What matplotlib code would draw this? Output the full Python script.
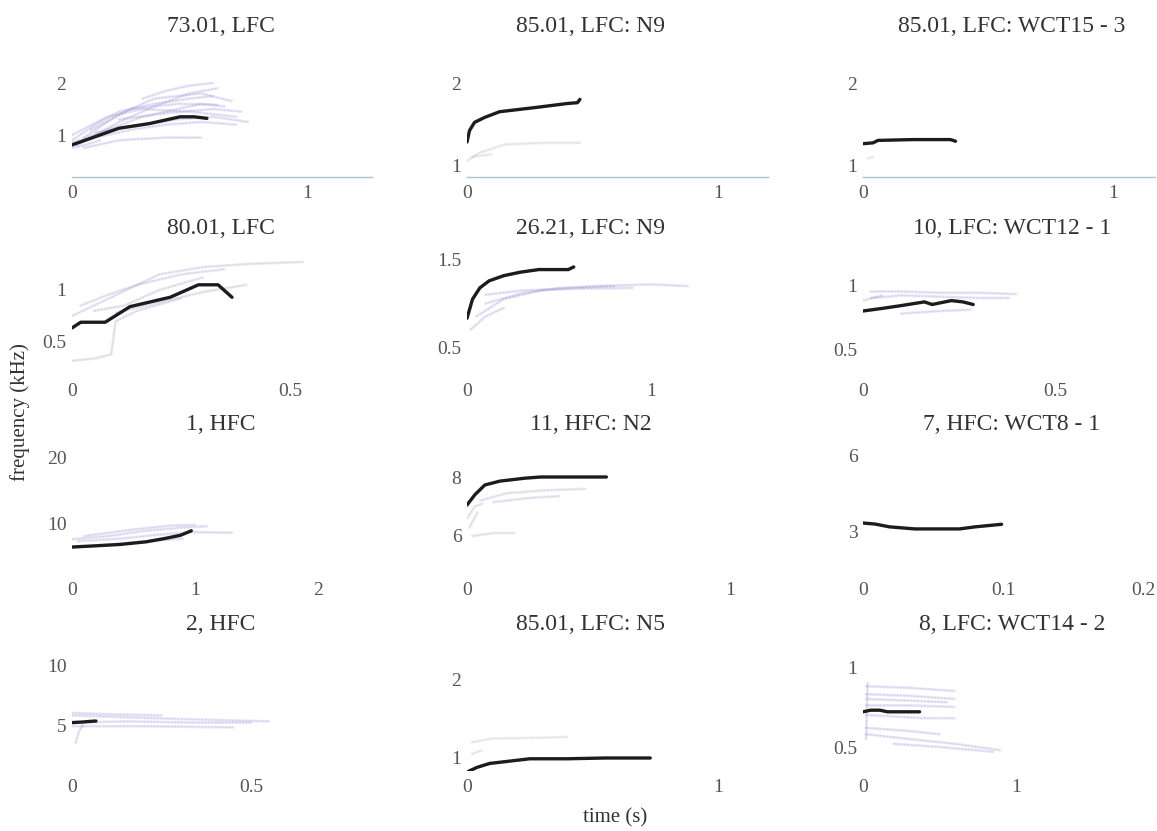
import matplotlib
matplotlib.use("Agg")
import matplotlib.pyplot as plt

W, H = 1157, 831
plt.rcParams['font.family'] = ['Liberation Serif', 'DejaVu Serif']

# ---------------- data ----------------
titles = [
    ["73.01, LFC", "85.01, LFC: N9", "85.01, LFC: WCT15 - 3"],
    ["80.01, LFC", "26.21, LFC: N9", "10, LFC: WCT12 - 1"],
    ["1, HFC", "11, HFC: N2", "7, HFC: WCT8 - 1"],
    ["2, HFC", "85.01, LFC: N5", "8, LFC: WCT14 - 2"],
]

xticks = [
    [[0, 1], [0, 1], [0, 1]],
    [[0, 0.5], [0, 1], [0, 0.5]],
    [[0, 1, 2], [0, 1], [0, 0.1, 0.2]],
    [[0, 0.5], [0, 1], [0, 1]],
]
xticklabels = [
    [["0", "1"], ["0", "1"], ["0", "1"]],
    [["0", "0.5"], ["0", "1"], ["0", "0.5"]],
    [["0", "1", "2"], ["0", "1"], ["0", "0.1", "0.2"]],
    [["0", "0.5"], ["0", "1"], ["0", "1"]],
]
yticks = [
    [[1, 2], [1, 2], [1, 2]],
    [[0.5, 1], [0.5, 1.5], [0.5, 1]],
    [[10, 20], [6, 8], [3, 6]],
    [[5, 10], [1, 2], [0.5, 1]],
]
yticklabels = [
    [["1", "2"], ["1", "2"], ["1", "2"]],
    [["0.5", "1"], ["0.5", "1.5"], ["0.5", "1"]],
    [["10", "20"], ["6", "8"], ["3", "6"]],
    [["5", "10"], ["1", "2"], ["0.5", "1"]],
]

# mean (black) contours: time (s), frequency (kHz)
mean_t = [
    [[0, 0.1, 0.2, 0.33, 0.46, 0.52, 0.574],
     [0, 0.01, 0.03, 0.07, 0.13, 0.27, 0.40, 0.44, 0.45],
     [0, 0.04, 0.06, 0.2, 0.35, 0.37]],
    [[0, 0.02, 0.076, 0.133, 0.225, 0.29, 0.335, 0.367],
     [0, 0.03, 0.07, 0.12, 0.2, 0.29, 0.39, 0.55, 0.58],
     [0, 0.05, 0.096, 0.16, 0.18, 0.23, 0.26, 0.287]],
    [[0, 0.2, 0.39, 0.6, 0.75, 0.88, 0.97],
     [0, 0.03, 0.068, 0.125, 0.22, 0.28, 0.4, 0.53],
     [0, 0.0086, 0.019, 0.037, 0.069, 0.08, 0.099]],
    [[0, 0.03, 0.05, 0.067],
     [0, 0.04, 0.09, 0.17, 0.25, 0.4, 0.55, 0.73],
     [0, 0.05, 0.11, 0.16, 0.24, 0.37]],
]
mean_f = [
    [[0.81, 0.97, 1.13, 1.22, 1.35, 1.35, 1.32],
     [1.28, 1.42, 1.52, 1.58, 1.65, 1.70, 1.75, 1.76, 1.80],
     [1.26, 1.27, 1.30, 1.31, 1.31, 1.29]],
    [[0.635, 0.69, 0.69, 0.84, 0.93, 1.05, 1.05, 0.93],
     [0.83, 1.05, 1.18, 1.26, 1.32, 1.36, 1.39, 1.39, 1.42],
     [0.80, 0.82, 0.84, 0.87, 0.85, 0.88, 0.87, 0.85]],
    [[6.3, 6.5, 6.7, 7.1, 7.6, 8.1, 8.8],
     [7.05, 7.4, 7.73, 7.86, 7.96, 8.0, 8.0, 8.0],
     [3.35, 3.31, 3.2, 3.12, 3.12, 3.2, 3.3]],
    [[5.2, 5.25, 5.3, 5.33],
     [0.82, 0.88, 0.93, 0.96, 0.99, 0.99, 1.0, 1.0],
     [0.72, 0.73, 0.73, 0.72, 0.72, 0.72]],
]

# individual (faint) contours per panel: list of (time, freq) pairs
faint = [
    [
        [([0, 0.1, 0.2, 0.35, 0.5, 0.6], [0.9, 1.2, 1.45, 1.6, 1.7, 1.75]),
         ([0, 0.15, 0.3, 0.45, 0.55, 0.65], [0.85, 1.1, 1.35, 1.5, 1.6, 1.55]),
         ([0.02, 0.2, 0.35, 0.5, 0.62], [0.8, 1.25, 1.55, 1.8, 1.9]),
         ([0, 0.1, 0.25, 0.4, 0.55, 0.7], [0.8, 0.95, 1.1, 1.2, 1.25, 1.2]),
         ([0.05, 0.2, 0.4, 0.55], [0.75, 0.9, 0.95, 0.95]),
         ([0, 0.15, 0.3, 0.5, 0.6, 0.7], [1.0, 1.35, 1.5, 1.45, 1.4, 1.35]),
         ([0.1, 0.3, 0.45, 0.6, 0.75], [1.05, 1.2, 1.3, 1.35, 1.25]),
         ([0.3, 0.4, 0.5, 0.6], [1.7, 1.85, 1.95, 2.0]),
         ([0.05, 0.2, 0.35, 0.55, 0.68], [0.95, 1.4, 1.7, 1.8, 1.65]),
         ([0.0, 0.05, 0.12], [0.75, 0.8, 0.9]),
         ([0.08, 0.25, 0.45, 0.62], [1.1, 1.5, 1.6, 1.58]),
         ([0.2, 0.4, 0.6, 0.72], [1.3, 1.42, 1.5, 1.45])],
        [([0, 0.05, 0.15, 0.3, 0.45], [1.05, 1.15, 1.25, 1.27, 1.27]),
         ([0.02, 0.1], [1.1, 1.13])],
        [([0.02, 0.04], [1.08, 1.1])],
    ],
    [
        [([0, 0.05, 0.1, 0.2, 0.3, 0.4, 0.53], [0.75, 0.85, 0.95, 1.15, 1.22, 1.25, 1.27]),
         ([0.02, 0.08, 0.15, 0.25, 0.35], [0.85, 0.95, 1.05, 1.15, 1.2]),
         ([0, 0.05, 0.09, 0.1, 0.15, 0.25], [0.32, 0.34, 0.38, 0.7, 0.8, 0.92]),
         ([0.05, 0.12, 0.2, 0.3], [0.8, 0.85, 1.0, 1.12]),
         ([0.1, 0.2, 0.3, 0.4], [0.78, 0.88, 0.98, 1.05])],
        [([0.05, 0.2, 0.4, 0.7, 1.0, 1.2], [0.85, 1.05, 1.15, 1.2, 1.22, 1.2]),
         ([0.1, 0.3, 0.5, 0.8], [1.0, 1.12, 1.18, 1.2]),
         ([0.02, 0.1, 0.2], [0.7, 0.85, 0.95]),
         ([0.1, 0.3, 0.6, 0.9], [1.1, 1.15, 1.17, 1.18])],
        [([0.02, 0.1, 0.2, 0.3, 0.4], [0.95, 0.95, 0.94, 0.94, 0.93]),
         ([0.02, 0.1, 0.2, 0.3, 0.38], [0.9, 0.92, 0.91, 0.9, 0.9]),
         ([0.1, 0.2, 0.28], [0.78, 0.8, 0.81]),
         ([0.0, 0.05], [0.88, 0.92])],
    ],
    [
        [([0, 0.3, 0.6, 0.9, 1.1], [7.5, 8.0, 8.8, 9.3, 9.5]),
         ([0.05, 0.4, 0.7, 1.0, 1.3], [7.2, 7.6, 8.2, 8.6, 8.5]),
         ([0.1, 0.5, 0.8, 1.0], [8.0, 9.0, 9.6, 9.7]),
         ([0.2, 0.5, 0.9], [6.5, 7.0, 7.6])],
        [([0.05, 0.15, 0.3, 0.45], [7.2, 7.45, 7.55, 7.6]),
         ([0.1, 0.25, 0.35], [7.15, 7.3, 7.35]),
         ([0.02, 0.1, 0.18], [6.0, 6.1, 6.1]),
         ([0, 0.03, 0.06], [6.6, 7.0, 7.1]),
         ([0.01, 0.04], [6.3, 6.8])],
        [],
    ],
    [
        [([0, 0.1, 0.3, 0.55], [5.8, 5.7, 5.5, 5.3]),
         ([0, 0.15, 0.35, 0.5], [5.2, 5.3, 5.2, 5.2]),
         ([0, 0.2, 0.45], [4.9, 4.9, 4.8]),
         ([0.01, 0.02, 0.03], [3.5, 4.5, 5.0]),
         ([0, 0.1, 0.25], [6.0, 5.9, 5.8])],
        [([0.02, 0.1, 0.3, 0.4], [1.2, 1.25, 1.26, 1.27]),
         ([0.02, 0.06], [1.05, 1.1])],
        [([0.02, 0.3, 0.6], [0.88, 0.87, 0.85]),
         ([0.02, 0.3, 0.6], [0.83, 0.82, 0.8]),
         ([0.02, 0.3, 0.55], [0.8, 0.79, 0.78]),
         ([0.02, 0.3, 0.6], [0.76, 0.76, 0.75]),
         ([0.02, 0.4, 0.6], [0.7, 0.68, 0.68]),
         ([0.02, 0.3, 0.5], [0.62, 0.6, 0.58]),
         ([0.02, 0.3, 0.6, 0.9], [0.58, 0.55, 0.52, 0.48]),
         ([0.2, 0.5, 0.85], [0.52, 0.5, 0.47]),
         ([0.02, 0.03], [0.55, 0.9])],
    ],
]

# ---------------- layout (pixels) & styles ----------------
col_left = [72, 467, 863]
col_right = [372, 768, 1155]
row_bottom = [177, 375, 574, 771]
row_top = [55, 245, 445, 650]
title_x = [221, 591, 1012]
title_y = [27, 228, 425, 625]
# calibration: (value1, pixel1, value2, pixel2)
xcal = [
    [(0, 72, 1, 307), (0, 467, 1, 718), (0, 863, 1, 1113)],
    [(0, 72, 0.5, 290), (0, 467, 1, 651), (0, 863, 0.5, 1055)],
    [(0, 72, 2, 318), (0, 467, 1, 730), (0, 863, 0.2, 1143)],
    [(0, 72, 0.5, 251), (0, 467, 1, 718), (0, 863, 1, 1016)],
]
ycal = [
    [(2, 83, 1, 135), (2, 83, 1, 165), (2, 83, 1, 165)],
    [(1, 290, 0.5, 342), (1.5, 260, 0.5, 347), (1, 285, 0.5, 350)],
    [(20, 458, 10, 523), (8, 477, 6, 536), (6, 455, 3, 532)],
    [(10, 665, 5, 725), (2, 680, 1, 758), (1, 667, 0.5, 747)],
]
faint_colors = [
    ['#a197d6', '#b8b8c4', '#b8b8c4'],
    ['#a7a2c8', '#a197d6', '#a197d6'],
    ['#a197d6', '#a9a4cc', '#a197d6'],
    ['#a197d6', '#b8b8c4', '#a197d6'],
]

fig = plt.figure(figsize=(W / 100, H / 100), dpi=100)
fig.patch.set_facecolor('white')

tick_color = '#555555'
text_color = '#333333'

for r in range(4):
    for c in range(3):
        L, R = col_left[c], col_right[c]
        B, T = row_bottom[r], row_top[r]
        ax = fig.add_axes([L / W, 1 - B / H, (R - L) / W, (B - T) / H])
        v1, p1, v2, p2 = xcal[r][c]
        sx = (p2 - p1) / (v2 - v1)
        ax.set_xlim(v1 + (L - p1) / sx, v1 + (R - p1) / sx)
        v1, p1, v2, p2 = ycal[r][c]
        sy = (p1 - p2) / (v2 - v1)
        ax.set_ylim(v1 + (p1 - B) / sy, v1 + (p1 - T) / sy)

        for tx, fy in faint[r][c]:
            ax.plot(tx, fy, color=faint_colors[r][c], lw=2.0, alpha=0.22,
                    solid_capstyle='round', zorder=1)
            ax.plot(tx, fy, color=faint_colors[r][c], lw=0.7, alpha=0.35,
                    linestyle=(0, (2, 1.5)), zorder=1)
        ax.plot(mean_t[r][c], mean_f[r][c], color='#1c1c1c', lw=2.4,
                solid_capstyle='round', solid_joinstyle='round', zorder=3)

        ax.set_xticks(xticks[r][c])
        ax.set_xticklabels(xticklabels[r][c])
        ax.set_yticks(yticks[r][c])
        ax.set_yticklabels(yticklabels[r][c])
        ax.tick_params(length=0, labelsize=14, colors=tick_color)
        ax.tick_params(axis='x', pad=6)
        ax.tick_params(axis='y', pad=4)
        for s in ['top', 'right', 'left']:
            ax.spines[s].set_visible(False)
        if r == 0:
            ax.spines['bottom'].set_color('#a9c6d4')
            ax.spines['bottom'].set_linewidth(1.0)
        else:
            ax.spines['bottom'].set_visible(False)
        ax.set_facecolor('none')

        fig.text(title_x[c] / W, 1 - title_y[r] / H, titles[r][c],
                 ha='center', va='center', fontsize=17, color=text_color)

fig.text(615 / W, 1 - 818 / H, "time (s)", ha='center', va='center',
         fontsize=15, color=text_color)
fig.text(20 / W, 1 - 412 / H, "frequency (kHz)", ha='center', va='center',
         rotation=90, fontsize=15, color=text_color)

fig.savefig("out.png", dpi=100, facecolor='white')
